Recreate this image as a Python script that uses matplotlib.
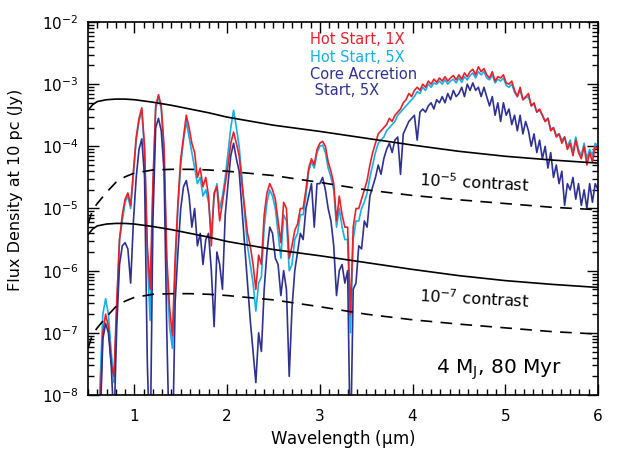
import matplotlib
matplotlib.use("Agg")
import matplotlib.pyplot as plt
import numpy as np
from matplotlib.ticker import MultipleLocator, FixedLocator, LogFormatterSciNotation

plt.rcParams['font.family'] = ['DejaVu Sans']
plt.rcParams['mathtext.default'] = 'regular'

# wavelength grid (micron) for the model spectra
wavelength = [
    0.60, 0.63, 0.66, 0.69, 0.72, 0.75, 0.78, 0.81, 0.84, 0.87,
    0.90, 0.93, 0.96, 0.99, 1.02, 1.05, 1.08, 1.11, 1.14, 1.17,
    1.20, 1.23, 1.26, 1.29, 1.32, 1.35, 1.38, 1.41, 1.44, 1.47,
    1.50, 1.53, 1.56, 1.59, 1.62, 1.65, 1.68, 1.71, 1.74, 1.77,
    1.80, 1.83, 1.86, 1.89, 1.92, 1.95, 1.98, 2.01, 2.04, 2.07,
    2.10, 2.13, 2.16, 2.19, 2.22, 2.25, 2.28, 2.31, 2.34, 2.37,
    2.40, 2.43, 2.46, 2.49, 2.52, 2.55, 2.58, 2.61, 2.64, 2.67,
    2.70, 2.73, 2.76, 2.79, 2.82, 2.85, 2.88, 2.91, 2.94, 2.97,
    3.00, 3.03, 3.06, 3.09, 3.12, 3.15, 3.18, 3.21, 3.24, 3.27,
    3.30, 3.33, 3.36, 3.39, 3.42, 3.45, 3.48, 3.51, 3.54, 3.57,
    3.60, 3.63, 3.66, 3.69, 3.72, 3.75, 3.78, 3.81, 3.84, 3.87,
    3.90, 3.93, 3.96, 3.99, 4.02, 4.05, 4.08, 4.11, 4.14, 4.17,
    4.20, 4.23, 4.26, 4.29, 4.32, 4.35, 4.38, 4.41, 4.44, 4.47,
    4.50, 4.53, 4.56, 4.59, 4.62, 4.65, 4.68, 4.71, 4.74, 4.77,
    4.80, 4.83, 4.86, 4.89, 4.92, 4.95, 4.98, 5.01, 5.04, 5.07,
    5.10, 5.13, 5.16, 5.19, 5.22, 5.25, 5.28, 5.31, 5.34, 5.37,
    5.40, 5.43, 5.46, 5.49, 5.52, 5.55, 5.58, 5.61, 5.64, 5.67,
    5.70, 5.73, 5.76, 5.79, 5.82, 5.85, 5.88, 5.91, 5.94, 5.97,
    6.00,
]

# log10 flux density (Jy)
hot_1x = [
    -9.0, -8.3, -7.0, -6.7, -6.9, -7.5, -7.7, -6.5, -5.5, -5.1,
    -4.85, -4.75, -4.95, -4.4, -3.85, -3.55, -3.38, -4.0, -5.6, -6.3,
    -4.6, -3.35, -3.17, -3.35, -4.0, -5.8, -6.6, -7.05, -5.8, -4.9,
    -4.2, -3.85, -3.5, -3.7, -3.95, -4.1, -4.5, -4.35, -4.65, -4.5,
    -4.8, -5.6, -4.75, -4.65, -5.2, -4.9, -4.6, -4.3, -3.95, -3.77,
    -3.95, -4.15, -4.6, -5.0, -5.4, -5.6, -5.9, -6.3, -5.75, -5.9,
    -5.1, -4.75, -4.6, -4.7, -4.85, -5.2, -5.55, -4.9, -5.0, -5.8,
    -5.6, -5.35, -5.25, -5.0, -5.0, -4.7, -4.35, -4.2, -4.3, -4.05,
    -3.95, -3.92, -4.0, -4.25, -4.4, -4.6, -5.2, -4.8, -5.1, -5.3,
    -5.3, -6.7, -5.3, -5.0, -5.0, -4.85, -4.7, -4.55, -4.3, -4.1,
    -3.95, -3.8, -3.75, -3.7, -3.65, -3.55, -3.6, -3.5, -3.45, -3.4,
    -3.3, -3.25, -3.15, -3.2, -3.1, -3.05, -3.1, -3.0, -3.05, -2.95,
    -3.0, -2.92, -2.97, -2.9, -2.95, -2.88, -2.95, -2.9, -2.86, -2.93,
    -2.85, -2.92, -2.82, -2.88, -2.8, -2.76, -2.85, -2.72, -2.8, -2.75,
    -2.85, -2.9, -2.8, -2.95, -2.88, -2.9, -2.85, -2.98, -3.0, -2.95,
    -3.1, -3.2, -3.05, -3.25, -3.2, -3.15, -3.35, -3.3, -3.45, -3.4,
    -3.5, -3.6, -3.55, -3.75, -3.7, -3.85, -3.8, -3.95, -3.85, -4.05,
    -3.95, -4.15, -3.9, -4.1, -4.2, -4.0, -4.3, -4.1, -4.25, -4.0,
    -4.05,
]

hot_5x = [
    -9.0, -7.8, -6.7, -6.45, -6.7, -7.3, -7.8, -6.6, -5.5, -5.2,
    -4.9, -4.8, -5.0, -4.45, -3.9, -3.6, -3.42, -4.1, -5.8, -6.8,
    -4.7, -3.4, -3.2, -3.4, -4.1, -6.0, -6.9, -7.25, -6.0, -5.0,
    -4.3, -3.9, -3.6, -3.85, -4.1, -4.35, -4.6, -4.5, -4.8, -4.7,
    -4.9, -5.4, -4.8, -4.6, -5.0, -4.8, -4.5, -4.1, -3.7, -3.42,
    -3.7, -4.0, -4.5, -5.1, -5.6, -5.9, -6.2, -6.65, -6.2, -6.1,
    -5.3, -4.9, -4.7, -4.8, -5.0, -5.4, -5.8, -5.1, -5.2, -6.0,
    -5.9, -5.5, -5.4, -5.1, -5.1, -4.8, -4.4, -4.25, -4.35, -4.1,
    -4.0, -3.98, -4.1, -4.35, -4.5, -4.7, -5.3, -5.0, -5.3, -5.5,
    -5.5, -7.0, -5.5, -5.2, -5.2, -5.0, -4.9, -4.75, -4.5, -4.3,
    -4.1, -3.95, -3.9, -3.85, -3.75, -3.7, -3.65, -3.6, -3.5, -3.45,
    -3.4, -3.35, -3.3, -3.25, -3.2, -3.12, -3.15, -3.05, -3.1, -3.0,
    -3.05, -2.98, -3.0, -2.95, -3.0, -2.93, -3.0, -2.95, -2.92, -2.98,
    -2.9, -2.97, -2.88, -2.93, -2.86, -2.82, -2.9, -2.8, -2.85, -2.8,
    -2.9, -2.93, -2.85, -2.98, -2.92, -2.95, -2.9, -3.02, -3.05, -3.0,
    -3.13, -3.2, -3.1, -3.25, -3.22, -3.2, -3.35, -3.32, -3.45, -3.42,
    -3.5, -3.6, -3.55, -3.72, -3.7, -3.82, -3.8, -3.9, -3.85, -4.0,
    -3.9, -4.1, -3.85, -4.05, -4.15, -3.95, -4.2, -4.05, -4.15, -3.95,
    -4.0,
]

core_5x = [
    -9.0, -8.5, -7.1, -6.85, -7.0, -7.5, -8.5, -6.9, -5.9, -5.6,
    -5.55, -5.65, -6.2, -5.2, -4.5, -4.05, -3.88, -4.5, -7.5, -9.0,
    -5.2, -3.7, -3.55, -3.75, -4.4, -7.0, -9.0, -9.0, -6.5, -5.7,
    -5.0, -4.65, -4.55, -4.8, -5.3, -5.0, -5.6, -5.4, -5.9, -5.5,
    -5.4, -6.0, -6.9, -5.7, -5.9, -6.3, -5.1, -4.6, -4.15, -3.95,
    -4.2, -4.4, -5.0, -5.6, -6.2, -6.8, -7.3, -7.8, -7.0, -7.3,
    -6.3, -5.7, -5.3, -5.4, -5.8, -5.9, -6.4, -6.0, -6.3, -7.7,
    -6.6, -6.0, -5.7, -5.4, -5.5, -5.0, -4.8, -4.6, -5.3, -4.6,
    -4.6, -4.5, -4.7, -5.0, -5.2, -5.6, -6.4, -6.0, -5.9, -6.2,
    -6.0, -9.0, -6.3, -6.2, -5.6, -5.65, -5.2, -5.3, -4.8, -4.65,
    -4.5, -4.3, -4.45, -4.2, -4.05, -3.95, -4.1, -3.9, -3.85, -4.45,
    -3.8, -3.7, -3.6, -3.55, -3.5, -3.9, -3.45, -3.4, -3.45, -3.35,
    -3.3, -3.4, -3.25, -3.3, -3.2, -3.3, -3.15, -3.25, -3.1, -3.2,
    -3.15, -3.05, -3.2, -3.0, -3.1, -2.98, -3.1, -3.05, -3.2, -3.05,
    -3.2, -3.35, -3.2, -3.5, -3.3, -3.6, -3.3, -3.5, -3.4, -3.65,
    -3.5, -3.75, -3.5, -3.8, -3.6, -3.75, -4.0, -3.8, -4.1, -3.9,
    -4.2, -4.0, -4.35, -4.1, -4.5, -4.3, -4.6, -4.4, -4.95, -4.6,
    -4.7, -4.5, -4.85, -4.6, -4.95, -4.7, -5.0, -4.6, -4.9, -4.6,
    -4.7,
]

# contrast curves (log10 Jy); lower pair is the same shape 2 dex down
contrast_wl = [0.50, 0.55, 0.60, 0.70, 0.80, 0.90, 1.00, 1.20, 1.40, 1.60,
               1.80, 2.00, 2.50, 3.00, 3.50, 4.00, 4.50, 5.00, 5.50, 6.00]
solid_1e5 = [-3.42, -3.33, -3.28, -3.25, -3.24, -3.24, -3.25, -3.29, -3.34, -3.40,
             -3.46, -3.53, -3.66, -3.76, -3.87, -3.98, -4.08, -4.16, -4.22, -4.27]
dashed_1e5 = [-5.25, -5.02, -4.92, -4.74, -4.58, -4.49, -4.43, -4.38, -4.37, -4.37,
              -4.38, -4.40, -4.47, -4.58, -4.70, -4.79, -4.86, -4.92, -4.98, -5.02]
solid_1e7 = [-5.42, -5.33, -5.28, -5.25, -5.24, -5.24, -5.25, -5.29, -5.34, -5.40,
             -5.46, -5.53, -5.66, -5.76, -5.87, -5.98, -6.08, -6.16, -6.22, -6.27]
dashed_1e7 = [-7.25, -7.02, -6.92, -6.74, -6.58, -6.49, -6.43, -6.38, -6.37, -6.37,
              -6.38, -6.40, -6.47, -6.58, -6.70, -6.79, -6.86, -6.92, -6.98, -7.02]

x_ticks = [1, 2, 3, 4, 5, 6]
y_ticks = [1e-8, 1e-7, 1e-6, 1e-5, 1e-4, 1e-3, 1e-2]

RED = '#e8202a'
CYAN = '#19aee6'
NAVY = '#2e3192'

fig = plt.figure(figsize=(6.3, 4.5), dpi=100)
ax = fig.add_axes([88 / 630, 1 - 395 / 450, 510 / 630, 373 / 450])

wl = np.array(wavelength)
ax.plot(wl, 10 ** np.array(hot_5x), color=CYAN, lw=1.2)
ax.plot(wl, 10 ** np.array(hot_1x), color=RED, lw=1.2)
ax.plot(wl, 10 ** np.array(core_5x), color=NAVY, lw=1.2)

cw = np.array(contrast_wl)
ax.plot(cw, 10 ** np.array(solid_1e5), color='black', lw=1.2)
ax.plot(cw, 10 ** np.array(solid_1e7), color='black', lw=1.2)
ax.plot(cw, 10 ** np.array(dashed_1e5), color='black', lw=1.2, dashes=(7, 5))
ax.plot(cw, 10 ** np.array(dashed_1e7), color='black', lw=1.2, dashes=(7, 5))

ax.set_yscale('log')
ax.set_xlim(0.5, 6.0)
ax.set_ylim(1e-8, 1e-2)

ax.xaxis.set_major_locator(FixedLocator(x_ticks))
ax.xaxis.set_minor_locator(MultipleLocator(0.1))
ax.yaxis.set_major_locator(FixedLocator(y_ticks))
minor_y = [m * d for d in y_ticks[:-1] for m in range(2, 10)]
ax.yaxis.set_minor_locator(FixedLocator(minor_y))
ax.yaxis.set_major_formatter(LogFormatterSciNotation())
ax.tick_params(which='both', direction='in', top=True, right=True, width=1)
ax.tick_params(which='major', length=8)
ax.tick_params(which='minor', length=4)
ax.tick_params(axis='x', which='major', labelsize=11, pad=10)
ax.tick_params(axis='y', which='major', labelsize=11, pad=7)
for s in ax.spines.values():
    s.set_linewidth(1.2)

ax.set_xlabel('Wavelength ($\\mu$m)', fontsize=12, labelpad=3)
ax.set_ylabel('Flux Density at 10 pc (Jy)', fontsize=11.5)
ax.yaxis.set_label_coords(-0.128, 0.55)

# legend as coloured text
ax.text(0.435, 0.952, 'Hot Start, 1X', color=RED, fontsize=10.5, transform=ax.transAxes, va='center')
ax.text(0.435, 0.906, 'Hot Start, 5X', color=CYAN, fontsize=10.5, transform=ax.transAxes, va='center')
ax.text(0.435, 0.860, 'Core Accretion', color=NAVY, fontsize=10.5, transform=ax.transAxes, va='center')
ax.text(0.435, 0.816, ' Start, 5X', color=NAVY, fontsize=10.5, transform=ax.transAxes, va='center')

ax.text(4.07, 2.6e-5, '10$^{-5}$ contrast', fontsize=11.5, rotation=-3, va='center')
ax.text(4.07, 3.6e-7, '10$^{-7}$ contrast', fontsize=11.5, rotation=-3, va='center')
ax.text(0.93, 0.067, '4 M$_J$, 80 Myr', fontsize=14.5, ha='right', va='center', transform=ax.transAxes)

fig.savefig('out.png', dpi=100)
